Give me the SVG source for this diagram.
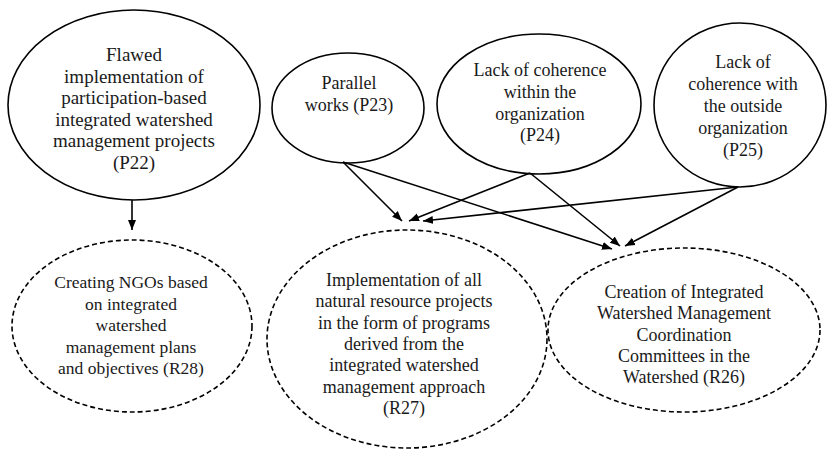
<svg xmlns="http://www.w3.org/2000/svg" width="828" height="451" viewBox="0 0 828 451">
<defs>
<marker id="ah" viewBox="0 0 10 10" refX="10" refY="5" markerWidth="10" markerHeight="10" markerUnits="userSpaceOnUse" orient="auto">
<path d="M0,1 L10,5 L0,9 z" fill="#000"/>
</marker>
</defs>
<style>
.n{fill:#fff;stroke:#000;stroke-width:1.6}
.d{fill:#fff;stroke:#000;stroke-width:1.6;stroke-dasharray:5 3}
.t{fill:#1a1a1a;text-anchor:middle}
.c{stroke:#000;stroke-width:1.6;fill:none;marker-end:url(#ah)}
</style>
<rect width="828" height="451" fill="#fff"/>
<g id="P22">
<ellipse class="n" cx="134" cy="105" rx="126" ry="95"/>
<text class="t" font-family="Liberation Serif" font-size="19" x="134" y="61"><tspan x="134">Flawed</tspan><tspan x="134" dy="21.6">implementation of</tspan><tspan x="134" dy="21.6">participation-based</tspan><tspan x="134" dy="21.6">integrated watershed</tspan><tspan x="134" dy="21.6">management projects</tspan><tspan x="134" dy="21.6">(P22)</tspan></text>
</g>
<g id="P23">
<ellipse class="n" cx="348" cy="108" rx="76" ry="55"/>
<text class="t" font-family="Liberation Serif" font-size="18" x="349" y="89"><tspan x="349">Parallel</tspan><tspan x="349" dy="22">works (P23)</tspan></text>
</g>
<g id="P24">
<ellipse class="n" cx="539" cy="104" rx="102" ry="70"/>
<text class="t" font-family="Liberation Serif" font-size="18" x="540" y="76"><tspan x="540">Lack of coherence</tspan><tspan x="540" dy="21.8">within the</tspan><tspan x="540" dy="21.8">organization</tspan><tspan x="540" dy="21.8">(P24)</tspan></text>
</g>
<g id="P25">
<ellipse class="n" cx="740" cy="105" rx="86" ry="82"/>
<text class="t" font-family="Liberation Serif" font-size="18" x="743" y="68"><tspan x="743">Lack of</tspan><tspan x="743" dy="22">coherence with</tspan><tspan x="743" dy="22">the outside</tspan><tspan x="743" dy="22">organization</tspan><tspan x="743" dy="22">(P25)</tspan></text>
</g>
<g id="R28">
<ellipse class="d" cx="132" cy="326" rx="120" ry="86"/>
<text class="t" font-family="Liberation Serif" font-size="17.5" x="131" y="288"><tspan x="131">Creating NGOs based</tspan><tspan x="131" dy="21.6">on integrated</tspan><tspan x="131" dy="21.6">watershed</tspan><tspan x="131" dy="21.6">management plans</tspan><tspan x="131" dy="21.6">and objectives (R28)</tspan></text>
</g>
<g id="R27">
<ellipse class="d" cx="407" cy="339" rx="140" ry="109"/>
<text class="t" font-family="Liberation Serif" font-size="18" x="404" y="286"><tspan x="404">Implementation of all</tspan><tspan x="404" dy="21.3">natural resource projects</tspan><tspan x="404" dy="21.3">in the form of programs</tspan><tspan x="404" dy="21.3">derived from the</tspan><tspan x="404" dy="21.3">integrated watershed</tspan><tspan x="404" dy="21.3">management approach</tspan><tspan x="404" dy="21.3">(R27)</tspan></text>
</g>
<g id="R26">
<ellipse class="d" cx="684" cy="330" rx="136" ry="82"/>
<text class="t" font-family="Liberation Serif" font-size="18" x="684" y="298"><tspan x="684">Creation of Integrated</tspan><tspan x="684" dy="21.3">Watershed Management</tspan><tspan x="684" dy="21.3">Coordination</tspan><tspan x="684" dy="21.3">Committees in the</tspan><tspan x="684" dy="21.3">Watershed (R26)</tspan></text>
</g>
<g id="connectors">
<line class="c" x1="132" y1="200" x2="132" y2="230"/>
<line class="c" x1="343" y1="162" x2="402" y2="221"/>
<line class="c" x1="343" y1="162" x2="612" y2="249"/>
<line class="c" x1="530" y1="173" x2="409" y2="221"/>
<line class="c" x1="530" y1="173" x2="620" y2="246"/>
<line class="c" x1="738" y1="187" x2="423" y2="221"/>
<line class="c" x1="738" y1="187" x2="625" y2="246"/>
</g>
</svg>
